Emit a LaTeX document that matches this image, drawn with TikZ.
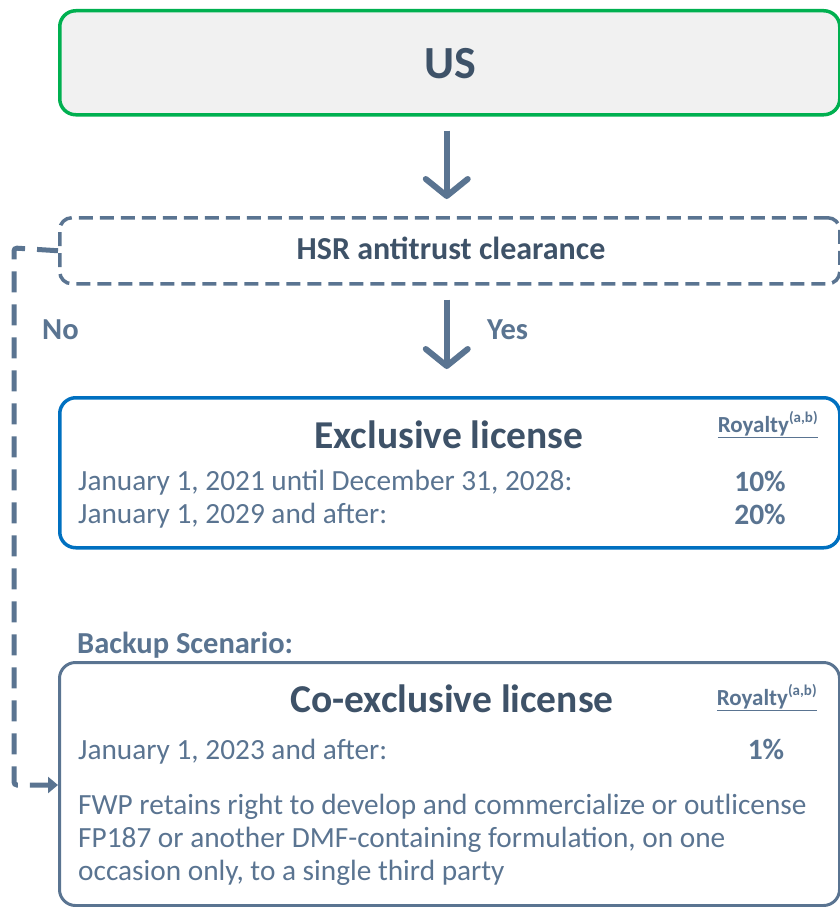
\documentclass[tikz,border=0pt]{standalone}
\usepackage{fontspec}
\setmainfont{Carlito}
\usetikzlibrary{arrows.meta}
\definecolor{slate}{HTML}{5A7491}
\definecolor{darkslate}{HTML}{3E5268}
\definecolor{boxgreen}{HTML}{00B050}
\definecolor{boxblue}{HTML}{0070C0}
\definecolor{lightfill}{HTML}{F1F1F1}
\begin{document}
\begin{tikzpicture}[x=1pt,y=-1pt,
  panel/.style={draw, rounded corners=16pt, line width=3.5pt},
  flowarrow/.style={draw=slate, line width=6pt, -{Straight Barb[length=17pt,width=42pt,round]}},
  title/.style={font=\fontsize{39.5}{44}\selectfont\bfseries, text=darkslate, anchor=base, inner sep=0},
  body/.style={font=\fontsize{29.3}{35}\selectfont, text=slate, anchor=base west, inner sep=0},
  pct/.style={font=\fontsize{29.5}{35}\selectfont\bfseries, text=slate, anchor=base, inner sep=0},
  roy/.style={font=\fontsize{23}{26}\selectfont\bfseries, text=slate, anchor=base, inner sep=0},
  lbl/.style={font=\fontsize{30.5}{34}\selectfont\bfseries, text=slate, inner sep=0}
]
\useasboundingbox (0,0) rectangle (840,907);
\newcommand{\roytext}{\underline{Royalty\textsuperscript{\fontsize{15}{17}\selectfont(a,b)}}}

% US box
\node[panel, draw=boxgreen, fill=lightfill, minimum width=780pt, minimum height=104pt, anchor=north west] (us) at (58,9) {};
\node[font=\fontsize{46}{50}\selectfont\bfseries, text=darkslate, anchor=base, inner sep=0] (usT) at (450,78) {US};

% HSR box
\node[draw=slate, dashed, dash pattern=on 14pt off 7pt, line width=3.5pt, rounded corners=12pt,
  minimum width=780pt, minimum height=66pt, anchor=north west] (hsr) at (58,216) {};
\node[font=\fontsize{32}{36}\selectfont\bfseries, text=darkslate, anchor=base, inner sep=0] (hsrT) at (451,259) {HSR antitrust clearance};

% Exclusive license box
\node[panel, draw=boxblue, minimum width=780pt, minimum height=150pt, anchor=north west] (excl) at (58,396) {};
\node[title] (exT) at (449,448) {Exclusive license};
\node[roy] (exR) at (768,432) {\roytext};
\node[body] (ex1) at (78,490) {January 1, 2021 until December 31, 2028:};
\node[pct] (ex1p) at (760,491) {10\%};
\node[body] (ex2) at (78,523) {January 1, 2029 and after:};
\node[pct] (ex2p) at (760,524) {20\%};

% Backup label
\node[lbl, anchor=base west] (backup) at (77,653) {Backup Scenario:};

% Co-exclusive box
\node[panel, draw=slate, line width=3pt, minimum width=780pt, minimum height=243pt, anchor=north west] (coex) at (58,661) {};
\node[title] (coT) at (452,712) {Co-exclusive license};
\node[roy] (coR) at (767,705) {\roytext};
\node[body] (co1) at (78,759) {January 1, 2023 and after:};
\node[pct] (co1p) at (766,759) {1\%};
\node[body] (co2) at (78,814) {FWP retains right to develop and commercialize or outlicense};
\node[body] (co3) at (78,847) {FP187 or another DMF-containing formulation, on one};
\node[body] (co4) at (78,880) {occasion only, to a single third party};

% arrows
\draw[flowarrow, shorten >=17pt, shorten <=14pt] ([xshift=-3pt]us.south) -- ([xshift=-3pt]hsr.north);
\draw[flowarrow, shorten >=27pt, shorten <=14pt] ([xshift=-3pt]hsr.south) -- ([xshift=-3pt]excl.north);
\node[lbl, anchor=west] (yes) at (487,330) {Yes};
\node[lbl, anchor=west] (no) at (42,330) {No};

% No path
\coordinate (corner1) at (14,248);
\coordinate (corner2) at (14,785);
\draw[draw=slate, line width=5pt, dash pattern=on 21pt off 12pt, rounded corners=3pt,
  -{Triangle[length=10pt,width=16pt]}]
  (hsr.west) -- (corner1) -- (corner2) -- (corner2 -| coex.west);
\end{tikzpicture}
\end{document}
